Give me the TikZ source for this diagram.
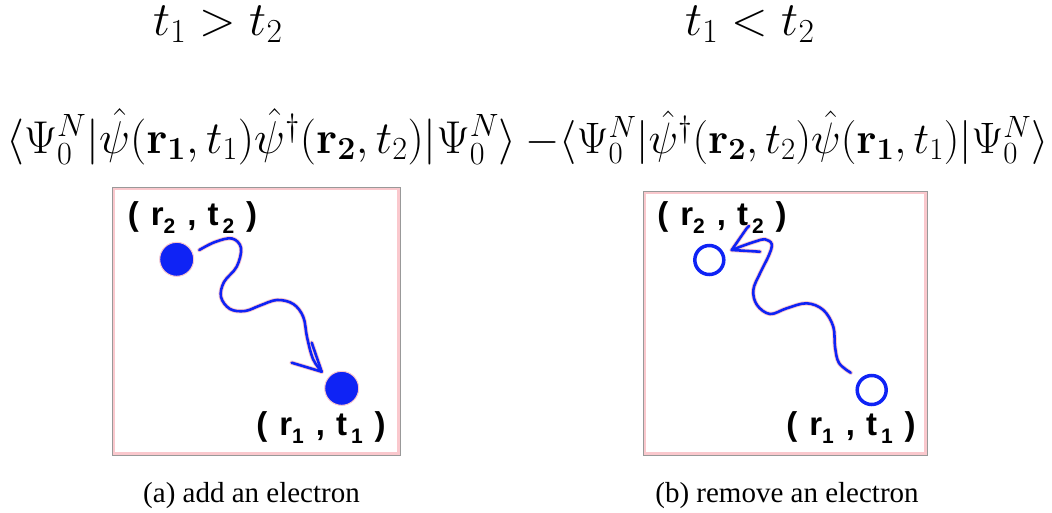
\RequirePackage{fix-cm}
\documentclass[tikz,border=0pt]{standalone}
\usepackage{amsmath}
\usepackage[no-math]{fontspec}
\newfontfamily\capfont{Liberation Serif}
\newfontfamily\lblfont{Liberation Sans}
\newcommand\lsub[1]{\raisebox{-8pt}{\fontsize{21}{21}\selectfont #1}}
\newcommand\lbltext[2]{(\hspace{12pt}r\lsub{#1}\hspace{12pt},\hspace{11pt}t\hspace{4pt}\lsub{#2}\hspace{12pt})}
\definecolor{eblue}{RGB}{15,35,245}
\definecolor{halo}{RGB}{250,200,205}
\tikzset{
  headtxt/.style={anchor=base, inner sep=0pt, font=\fontsize{48}{54}\selectfont},
  mathtxt/.style={anchor=base, inner sep=0pt, font=\fontsize{46}{50}\selectfont},
  mathtxtb/.style={anchor=base, inner sep=0pt, font=\fontsize{44}{50}\selectfont},
  captxt/.style={anchor=base, inner sep=0pt, font=\capfont\fontsize{29}{32}\selectfont},
  lbl/.style={anchor=base, inner sep=0pt, font=\lblfont\bfseries\fontsize{33}{36}\selectfont},
  panel/.style={draw=halo, line width=2.5pt},
  panelout/.style={draw=gray!80, line width=0.8pt},
  wave/.style={draw=eblue, line width=2.6pt, line cap=round, line join=round},
  wavehalo/.style={draw=halo, line width=4.4pt, line cap=round, line join=round},
  filledel/.style={circle, fill=eblue, draw=halo, line width=1pt, minimum size=34pt, inner sep=0pt},
  openel/.style={circle, draw=eblue, line width=3.5pt, minimum size=29pt, inner sep=0pt, fill=white},
}
\begin{document}
\begin{tikzpicture}[x=1pt,y=-1pt]
\useasboundingbox (0,0) rectangle (1052,512);
% headings
\node[headtxt] (ha) at (218,35) {$t_1 > t_2$};
\node[headtxt] (hb) at (750,35) {$t_1 < t_2$};
\node[mathtxt] (fa) at (261.5,153) {$\langle\Psi_0^N|\hat{\psi}(\mathbf{r_1},t_1)\hat{\psi}^\dagger(\mathbf{r_2},t_2)|\Psi_0^N\rangle$};
\node[mathtxtb] (fb) at (787,153) {$-\langle\Psi_0^N|\hat{\psi}^\dagger(\mathbf{r_2},t_2)\hat{\psi}(\mathbf{r_1},t_1)|\Psi_0^N\rangle$};
% panels
\draw[panel] (113.5,188.5) rectangle (398.5,453.5);
\draw[panelout] (112,187) rectangle (400,455);
\draw[panel] (644.5,192.5) rectangle (925.5,453.5);
\draw[panelout] (643,191) rectangle (927,455);
% panel (a)
\node[filledel] (a2) at (176.7,259.3) {};
\node[filledel] (a1) at (341.7,388.3) {};
\node[lbl] (la2) at (192.5,225) {\lbltext{2}{2}};
\node[lbl] (la1) at (321,435) {\lbltext{1}{1}};
\coordinate (atip) at (321.7,371.7);
\foreach \st in {wavehalo,wave}{
\draw[\st] plot[smooth, tension=0.6] coordinates {(199.3,250) (215,242) (232,238.5) (241,248) (236.7,266.7) (224,282) (221,297) (230,309) (245,311) (260,305.5) (277,300) (293.3,304) (303.3,317) (307,337) (313,359) (atip)};
\draw[\st] (291.7,362.7) -- (atip) -- (311.7,342.7);
}
% panel (b)
\node[openel] (b2) at (709.3,260) {};
\node[openel] (b1) at (871.7,390) {};
\node[lbl] (lb2) at (722,225) {\lbltext{2}{2}};
\node[lbl] (lb1) at (851,435) {\lbltext{1}{1}};
\coordinate (btip) at (731.7,250);
\foreach \st in {wavehalo,wave}{
\draw[\st] plot[smooth, tension=0.6] coordinates {(850.7,372.7) (839,363) (835,346.7) (833.3,326.7) (823.3,310) (806.7,303.3) (786.7,308.3) (770,314) (757,305) (753.3,290) (760,273.3) (769,255) (771.7,244) (765,239.3) (757,241) (745,245) (btip)};
\draw[\st] (760,251.7) -- (btip) -- (746.7,228.3) -- (749,226);
}
% captions
\node[captxt] (ca) at (251.5,502) {(a) add an electron};
\node[captxt] (cb) at (787,502) {(b) remove an electron};
\end{tikzpicture}
\end{document}
